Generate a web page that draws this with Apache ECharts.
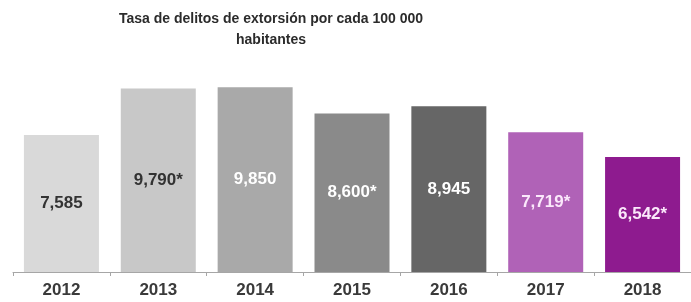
<!DOCTYPE html>
<html>
<head>
<meta charset="utf-8">
<script src="https://cdn.jsdelivr.net/npm/echarts@6/dist/echarts.min.js"></script>
<style>
  html, body { margin: 0; padding: 0; background: #fff; }
  #chart { width: 691px; height: 302px; }
</style>
</head>
<body>
<div id="chart"></div>
<script>
const years = ['2012', '2013', '2014', '2015', '2016', '2017', '2018']
const rates = [7585, 9790, 9850, 8600, 8945, 7719, 6542]
// cifras marcadas con asterisco en la gráfica original
const starred = [false, true, false, true, false, true, true]

const barColors = ['#d9d9d9', '#c8c8c8', '#a9a9a9', '#8a8a8a', '#666666', '#b062b7', '#8e1b8f']
const labelColors = ['#333333', '#333333', '#ffffff', '#ffffff', '#ffffff', '#fbe8fb', '#fbe8fb']

const font = '"Liberation Sans", Arial, sans-serif'

const myChart = echarts.init(document.getElementById('chart'))

const option = {
  animation: false,
  title: {
    text: 'Tasa de delitos de extorsión por cada 100 000\nhabitantes',
    left: 266,
    top: 4,
    textAlign: 'center',
    textStyle: {
      fontFamily: font,
      fontSize: 14,
      fontWeight: 'bold',
      color: '#2b2b2b',
      lineHeight: 21
    }
  },
  grid: {
    left: 13,
    width: 687,
    top: 84,
    bottom: 30
  },
  xAxis: {
    type: 'category',
    data: years,
    axisLine: { lineStyle: { color: '#a6a6a6', width: 1 } },
    axisTick: { show: true, length: 4, lineStyle: { color: '#a6a6a6' } },
    axisLabel: {
      margin: 10,
      fontFamily: font,
      fontSize: 17,
      fontWeight: 'bold',
      color: '#3a3a3a'
    }
  },
  yAxis: {
    type: 'value',
    min: 1100,
    max: 10000,
    show: false,
    splitLine: { show: false }
  },
  series: [
    {
      type: 'bar',
      barWidth: 75,
      data: rates.map((v, i) => ({
        value: v,
        itemStyle: { color: barColors[i] },
        label: { color: labelColors[i] }
      })),
      label: {
        show: true,
        position: 'inside',
        fontFamily: font,
        fontSize: 17,
        fontWeight: 'bold',
        formatter: (p) => p.value.toLocaleString('en-US') + (starred[p.dataIndex] ? '*' : '')
      }
    }
  ]
}

myChart.setOption(option)
</script>
</body>
</html>
